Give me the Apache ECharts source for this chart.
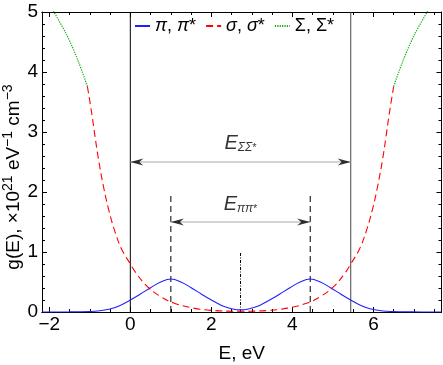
<!DOCTYPE html>
<html><head><meta charset="utf-8">
<script src="https://cdn.jsdelivr.net/npm/echarts@6/dist/echarts.min.js"></script>
<style>html,body{margin:0;padding:0;background:#fff}#c{width:443px;height:365px}</style>
</head><body><div id="c"></div>
<script>
// ---- data ----
const PI_E = [-2.18, -1.5, -1.0, -0.75, -0.5, -0.25, 0, 0.25, 0.5, 0.75, 1.0, 1.25, 1.5, 1.75, 2.0, 2.25, 2.5, 2.72, 2.94, 3.19, 3.44, 3.69, 3.94, 4.19, 4.44, 4.69, 4.94, 5.19, 5.44, 5.69, 5.94, 6.19, 6.44, 6.94, 7.68];
const PI_G = [0.0, 0.002, 0.009, 0.022, 0.05, 0.11, 0.2, 0.3, 0.405, 0.5, 0.55, 0.5, 0.405, 0.3, 0.2, 0.11, 0.055, 0.035, 0.055, 0.11, 0.2, 0.3, 0.405, 0.5, 0.55, 0.5, 0.405, 0.3, 0.2, 0.11, 0.05, 0.022, 0.009, 0.002, 0.0];
const SIG_E = [-1.06, -0.95, -0.87, -0.79, -0.665, -0.54, -0.375, -0.21, 0, 0.12, 0.41, 0.74, 1.07, 1.56, 2.05, 2.72, 3.39, 3.88, 4.37, 4.70, 5.03, 5.32, 5.44, 5.65, 5.815, 5.98, 6.105, 6.23, 6.31, 6.39, 6.50];
const SIG_G = [3.76, 3.3, 2.92, 2.56, 2.1, 1.72, 1.33, 1.04, 0.8, 0.67, 0.43, 0.26, 0.15, 0.065, 0.025, 0.012, 0.025, 0.065, 0.15, 0.26, 0.43, 0.67, 0.8, 1.04, 1.33, 1.72, 2.1, 2.56, 2.92, 3.3, 3.76];
const SIGMA_L_E = [-1.93, -1.57, -1.28, -1.06];
const SIGMA_L_G = [5.05, 4.62, 4.17, 3.76];
const SIGMA_R_E = [6.50, 6.72, 7.01, 7.37];
const SIGMA_R_G = [3.76, 4.17, 4.62, 5.05];
const E_SIGMA_EDGES = [0, 5.44];     // solid vertical lines
const E_PI_PEAKS = [1.0, 4.44];      // dashed vertical lines
const E_MID = 2.72;                  // dash-dot line
const DASH_TOP = 2.0, MID_TOP = 1.0;
const ARROW_SIGMA_Y = 2.5, ARROW_PI_Y = 1.5;
const LABEL_SIGMA_Y = 2.81, LABEL_PI_Y = 1.79;
const X_MIN = -2.18, X_MAX = 7.68, Y_MIN = 0, Y_MAX = 5;
const X_MAJOR = [-2, 0, 2, 4, 6];
const X_MINOR = [-1.5, -1, -0.5, 0.5, 1, 1.5, 2.5, 3, 3.5, 4.5, 5, 5.5, 6.5, 7, 7.5];
const NAMES = ['π, π*', 'σ, σ*', 'Σ, Σ*'];

const zip = (a, b) => a.map((v, i) => [v, b[i]]);
const FONT = 'Liberation Sans';

function seg(points, color, type, width) {
  return {type: 'line', data: points, symbol: 'none', silent: true, animation: false,
    lineStyle: {color: color, type: type, width: width || 1}, z: 1};
}

const xBase = {type: 'value', min: X_MIN, max: X_MAX, splitLine: {show: false},
  axisLine: {show: true, onZero: false, lineStyle: {color: '#000', width: 1}}};
const yBase = {type: 'value', min: Y_MIN, max: Y_MAX, interval: 1, splitLine: {show: false},
  axisLine: {show: true, onZero: false, lineStyle: {color: '#000', width: 1}},
  axisTick: {inside: true, length: 5, lineStyle: {color: '#000'}},
  minorTick: {show: true, splitNumber: 5, length: 3, lineStyle: {color: '#000'}}};

const ARROW_R = 'path://M0,0L10,5L0,10L3,5Z';
const ARROW_L = 'path://M10,0L0,5L10,10L7,5Z';

const option = {
  backgroundColor: '#fff',
  animation: false,
  textStyle: {fontFamily: FONT},
  grid: {left: 42, right: 1.5, top: 12, bottom: 53, outerBoundsMode: 'none'},
  legend: {
    data: NAMES, left: 134, top: 17, itemWidth: 15, itemHeight: 12, itemGap: 9, padding: 0,
    itemStyle: {opacity: 0},
    textStyle: {fontSize: 18, color: '#000', fontFamily: FONT,
      rich: {i: {fontSize: 18, fontStyle: 'italic', fontFamily: FONT, color: '#000'},
             n: {fontSize: 18, fontFamily: FONT, color: '#000'}}},
    formatter: function (n) {
      if (n === NAMES[0]) return '{i|π}{n|, }{i|π}{n|*}';
      if (n === NAMES[1]) return '{i|σ}{n|, }{i|σ}{n|*}';
      return '{n|' + n + '}';
    }
  },
  graphic: [{
    type: 'text', x: 14, y: 177, rotation: Math.PI / 2, silent: true,
    style: {
      text: '{a|g(E), ×10}{p|21}{a| eV}{p|−1}{a| cm}{p|−3}',
      align: 'center', verticalAlign: 'middle', fill: '#000', fontFamily: FONT,
      rich: {a: {fontSize: 19, lineHeight: 26, fontFamily: FONT, fill: '#000'},
             p: {fontSize: 14, lineHeight: 14, verticalAlign: 'top', fontFamily: FONT, fill: '#000'}}
    }
  }],
  xAxis: [
    Object.assign({}, xBase, {position: 'bottom',
      axisTick: {inside: true, length: 5, customValues: X_MAJOR, lineStyle: {color: '#000'}},
      axisLabel: {customValues: X_MAJOR, fontSize: 19, color: '#000', margin: 3, fontFamily: FONT,
        formatter: v => (v < 0 ? '\u2212' + (-v) : String(v))},
      name: 'E, eV', nameLocation: 'middle', nameGap: 32,
      nameTextStyle: {fontSize: 19, color: '#000', fontFamily: FONT}}),
    Object.assign({}, xBase, {position: 'bottom',
      axisTick: {inside: true, length: 3, customValues: X_MINOR, lineStyle: {color: '#000'}},
      axisLabel: {show: false}}),
    Object.assign({}, xBase, {position: 'top',
      axisTick: {inside: true, length: 5, customValues: X_MAJOR, lineStyle: {color: '#000'}},
      axisLabel: {show: false}}),
    Object.assign({}, xBase, {position: 'top',
      axisTick: {inside: true, length: 3, customValues: X_MINOR, lineStyle: {color: '#000'}},
      axisLabel: {show: false}})
  ],
  yAxis: [
    Object.assign({}, yBase, {position: 'left',
      axisLabel: {fontSize: 19, color: '#000', margin: 4, fontFamily: FONT}}),
    Object.assign({}, yBase, {position: 'right', axisLabel: {show: false}})
  ],
  series: [
    {name: NAMES[0], type: 'line', data: zip(PI_E, PI_G), symbol: 'none', smooth: 0.4,
      color: '#2020ff', lineStyle: {color: '#2020ff', width: 1.1}, z: 3},
    {name: NAMES[1], type: 'line', data: zip(SIG_E, SIG_G), symbol: 'none', smooth: 0.4,
      color: '#ff0000', lineStyle: {color: '#ff0000', width: 1.1, type: [7, 4]}, z: 3},
    {name: NAMES[2], type: 'line', data: zip(SIGMA_L_E, SIGMA_L_G), symbol: 'none', smooth: 0.3,
      color: '#10b010', lineStyle: {color: '#10b010', width: 1.3, type: [1.2, 1.2]}, z: 3},
    {name: NAMES[2], type: 'line', data: zip(SIGMA_R_E, SIGMA_R_G), symbol: 'none', smooth: 0.3,
      color: '#10b010', lineStyle: {color: '#10b010', width: 1.3, type: [1.2, 1.2]}, z: 3},
    // solid vertical lines
    seg([[E_SIGMA_EDGES[0], Y_MIN], [E_SIGMA_EDGES[0], Y_MAX]], '#000', 'solid', 1),
    seg([[E_SIGMA_EDGES[1], Y_MIN], [E_SIGMA_EDGES[1], Y_MAX]], '#444', 'solid', 1),
    // dashed vertical lines
    seg([[E_PI_PEAKS[0], Y_MIN], [E_PI_PEAKS[0], DASH_TOP]], '#000', [6, 4], 1),
    seg([[E_PI_PEAKS[1], Y_MIN], [E_PI_PEAKS[1], DASH_TOP]], '#000', [6, 4], 1),
    // dash-dot middle line
    seg([[E_MID, Y_MIN], [E_MID, MID_TOP]], '#000', [3, 1.5, 1, 1.5], 1),
    // gray arrow shafts
    seg([[E_SIGMA_EDGES[0], ARROW_SIGMA_Y], [E_SIGMA_EDGES[1], ARROW_SIGMA_Y]], '#a8a8a8', 'solid', 1),
    seg([[E_PI_PEAKS[0], ARROW_PI_Y], [E_PI_PEAKS[1], ARROW_PI_Y]], '#a8a8a8', 'solid', 1),
    // arrow heads
    {type: 'scatter', silent: true, animation: false, symbolSize: [13, 7], itemStyle: {color: '#000'}, z: 4,
      data: [
        {value: [E_SIGMA_EDGES[0], ARROW_SIGMA_Y], symbol: ARROW_L, symbolOffset: [6.5, 0]},
        {value: [E_SIGMA_EDGES[1], ARROW_SIGMA_Y], symbol: ARROW_R, symbolOffset: [-6.5, 0]},
        {value: [E_PI_PEAKS[0], ARROW_PI_Y], symbol: ARROW_L, symbolOffset: [6.5, 0]},
        {value: [E_PI_PEAKS[1], ARROW_PI_Y], symbol: ARROW_R, symbolOffset: [-6.5, 0]}
      ]},
    // annotation labels
    {type: 'scatter', silent: true, animation: false, symbolSize: 0, z: 5,
      label: {show: true, position: 'inside', color: '#000',
        rich: {
          e: {fontSize: 20, lineHeight: 20, fontStyle: 'italic', verticalAlign: 'bottom', fontFamily: FONT, color: '#000'},
          s: {fontSize: 12, lineHeight: 12, fontStyle: 'italic', verticalAlign: 'bottom', fontFamily: FONT, color: '#000'},
          t: {fontSize: 11, lineHeight: 16, verticalAlign: 'bottom', fontFamily: FONT, color: '#000'}
        }},
      data: [
        {value: [E_MID, LABEL_SIGMA_Y], label: {formatter: '{e|E}{s|ΣΣ}{t|*}'}},
        {value: [E_MID, LABEL_PI_Y], label: {formatter: '{e|E}{s|ππ}{t|*}'}}
      ]}
  ]
};
const chart = echarts.init(document.getElementById('c'), null, {renderer: 'canvas'});
chart.setOption(option);
</script></body></html>
